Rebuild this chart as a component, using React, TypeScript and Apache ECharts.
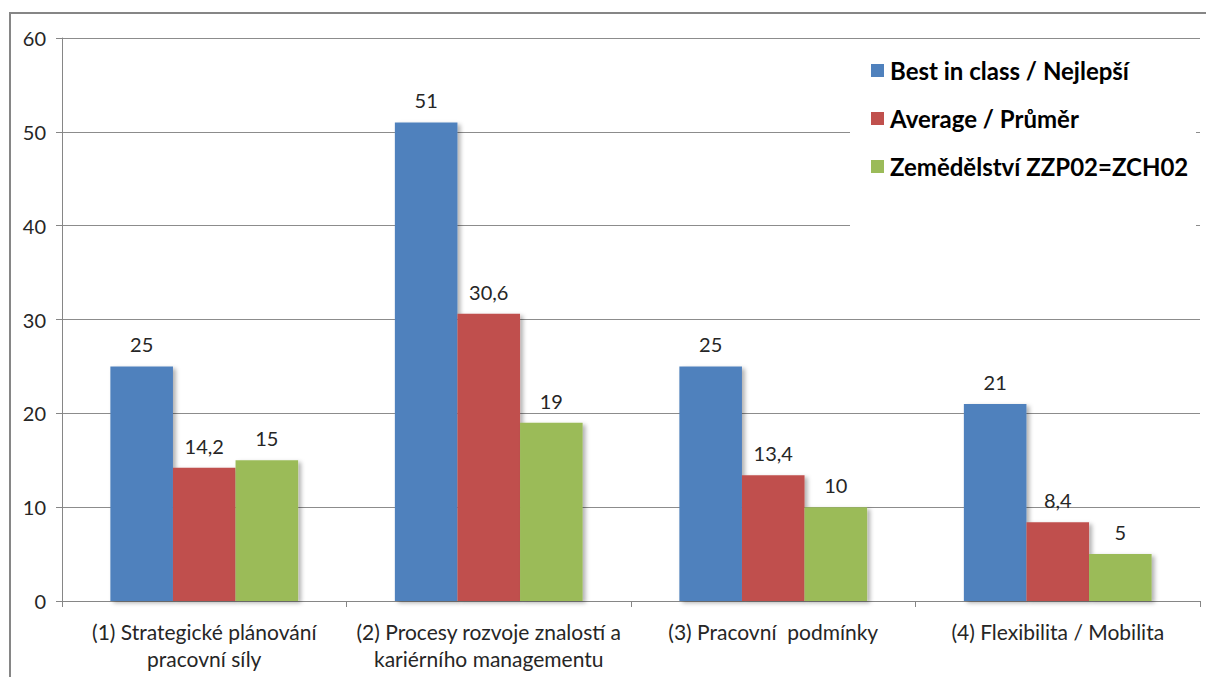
import React, { useEffect, useRef } from "react";
import * as echarts from "echarts";

const categories = [
  "(1) Strategické plánování\npracovní síly",
  "(2) Procesy rozvoje znalostí a\nkariérního managementu",
  "(3) Pracovní  podmínky",
  "(4) Flexibilita / Mobilita",
];
const seriesNames = [
  "Best in class / Nejlepší",
  "Average / Průměr",
  "Zemědělství ZZP02=ZCH02",
];
const bestValues = [25, 51, 25, 21];
const averageValues = [14.2, 30.6, 13.4, 8.4];
const zemValues = [15, 19, 10, 5];
const colors = ["#4F81BD", "#C0504D", "#9BBB59"];

const FONT = "Lato, 'Open Sans', sans-serif";

export default function App() {
  const ref = useRef<HTMLDivElement>(null);
  useEffect(() => {
    if (!ref.current) return;
    const chart = echarts.init(ref.current, undefined, { renderer: "svg" });
    const mk = (name: string, data: number[], color: string) => ({
      name,
      type: "bar",
      data,
      barGap: "0%",
      barCategoryGap: "34%",
      itemStyle: {
        color,
        shadowColor: "rgba(0,0,0,0.3)",
        shadowBlur: 4,
        shadowOffsetX: 3,
        shadowOffsetY: 2,
      },
      label: {
        show: true,
        position: "top",
        distance: 12,
        color: "#262626",
        fontSize: 20,
        fontFamily: FONT,
        formatter: (p: any) => String(p.value).replace(".", ","),
      },
    });
    chart.setOption({
      animation: false,
      backgroundColor: "#ffffff",
      grid: { left: 62, right: 6, top: 38, bottom: 76, containLabel: false },
      graphic: [
        {
          type: "rect",
          z: 3,
          shape: { x: 850, y: 45, width: 346, height: 186 },
          style: { fill: "#ffffff" },
        },
        {
          type: "rect",
          z: 10,
          shape: { x: 10, y: 13, width: 1400, height: 1000 },
          style: { fill: "none", stroke: "#868686", lineWidth: 2 },
        },
      ],
      legend: {
        orient: "vertical",
        left: 866,
        top: 51,
        itemWidth: 13,
        itemHeight: 13,
        itemGap: 19,
        icon: "rect",
        z: 5,
        data: seriesNames,
        textStyle: {
          fontSize: 24,
          fontWeight: "bold",
          fontFamily: FONT,
          color: "#000",
          lineHeight: 29,
          padding: [0, 0, 0, 1],
        },
      },
      xAxis: {
        type: "category",
        data: categories,
        axisLine: { lineStyle: { color: "#868686", width: 1 } },
        axisTick: { show: true, length: 6, lineStyle: { color: "#868686" } },
        axisLabel: {
          fontSize: 21,
          fontFamily: FONT,
          color: "#262626",
          lineHeight: 27,
          margin: 17,
          interval: 0,
        },
      },
      yAxis: {
        type: "value",
        min: 0,
        max: 60,
        interval: 10,
        axisLine: { show: true, lineStyle: { color: "#868686", width: 1 } },
        axisTick: { show: true, length: 6, lineStyle: { color: "#868686" } },
        axisLabel: {
          fontSize: 20,
          fontFamily: FONT,
          color: "#262626",
          margin: 16,
        },
        splitLine: { lineStyle: { color: "#8c8c8c", width: 1 } },
      },
      series: [
        mk(seriesNames[0], bestValues, colors[0]),
        mk(seriesNames[1], averageValues, colors[1]),
        mk(seriesNames[2], zemValues, colors[2]),
      ],
    });
    return () => chart.dispose();
  }, []);
  return (
    <div
      ref={ref}
      style={{ position: "fixed", left: 0, top: 0, width: 1206, height: 677 }}
    />
  );
}
